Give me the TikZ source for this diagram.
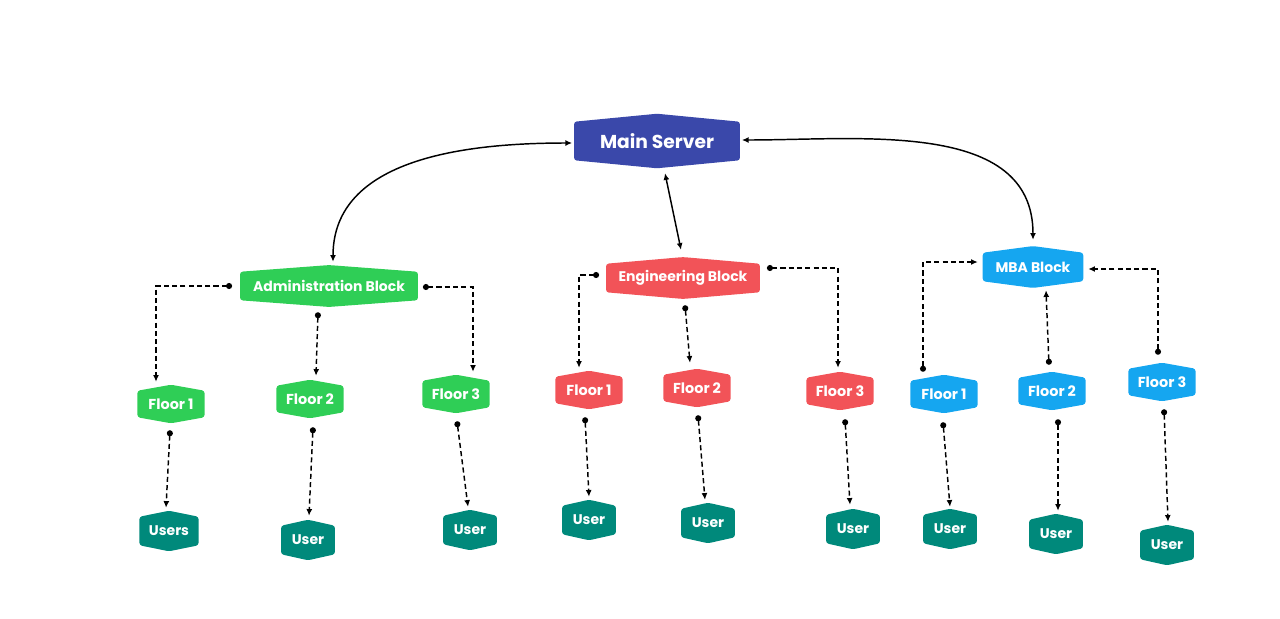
\documentclass[tikz,border=0pt]{standalone}
\usepackage{fontspec}
\setmainfont{Poppins}
\usetikzlibrary{arrows.meta,calc,backgrounds}

\definecolor{srvblue}{HTML}{3A48AA}
\definecolor{admgreen}{HTML}{2FCE56}
\definecolor{engred}{HTML}{F25358}
\definecolor{mbablue}{HTML}{15A6F0}
\definecolor{userteal}{HTML}{00897B}

\begin{document}
\begin{tikzpicture}[x=0.75pt,y=-0.75pt,
		hexbox/.style={inner sep=0pt, text=white, font=\bfseries\fontsize{10.5}{12}\selectfont},
		blockbox/.style={hexbox, minimum height=21pt},
		floorbox/.style={hexbox, minimum width=50pt, minimum height=19.5pt, font=\bfseries\fontsize{10.8}{12}\selectfont},
		userbox/.style={hexbox, minimum width=40pt, minimum height=21pt},
		duplex/.style={{Latex[length=5pt,width=4.5pt]}-{Latex[length=5pt,width=4.5pt]}, line width=1.1pt},
		feed/.style={{Circle[length=4.5pt]}-{Latex[length=5pt,width=4.5pt]}, line width=1.1pt, dash pattern=on 3.8pt off 2.4pt}]
		\useasboundingbox (0,0) rectangle (1280,618);
		
		% Main server
		\node[hexbox, minimum width=124pt, minimum height=28.5pt, font=\bfseries\fontsize{14}{16}\selectfont] (srv) at (657,141) {Main Server};
		
		% Blocks
		\node[blockbox, minimum width=133pt] (adm) at (329,286) {Administration Block};
		\node[blockbox, minimum width=115pt] (eng) at (683,278) {Engineering Block};
		\node[blockbox, minimum width=75pt] (mba) at (1033,267) {MBA Block};
		
		% Floors
		\node[floorbox] (af1) at (171,404) {Floor 1};
		\node[floorbox] (af2) at (310,399) {Floor 2};
		\node[floorbox] (af3) at (456,394) {Floor 3};
		\node[floorbox] (ef1) at (589,390) {Floor 1};
		\node[floorbox] (ef2) at (697,388) {Floor 2};
		\node[floorbox] (ef3) at (840,391) {Floor 3};
		\node[floorbox] (mf1) at (944,394) {Floor 1};
		\node[floorbox] (mf2) at (1052,391) {Floor 2};
		\node[floorbox] (mf3) at (1162,382) {Floor 3};
		
		% Users
		\node[userbox, minimum width=44pt] (au1) at (169,531) {Users};
		\node[userbox] (au2) at (308,540) {User};
		\node[userbox] (au3) at (470,530) {User};
		\node[userbox] (eu1) at (589,520) {User};
		\node[userbox] (eu2) at (708,523) {User};
		\node[userbox] (eu3) at (853,529) {User};
		\node[userbox] (mu1) at (950,529) {User};
		\node[userbox] (mu2) at (1056,534) {User};
		\node[userbox] (mu3) at (1167,545) {User};
		
		% hexagon shapes behind the labels
		\begin{scope}[on background layer]
			\foreach \n/\c/\p in {srv/srvblue/6pt, adm/admgreen/5pt, eng/engred/5pt, mba/mbablue/5pt,
				af1/admgreen/4.5pt, af2/admgreen/4.5pt, af3/admgreen/4.5pt,
				ef1/engred/4.5pt, ef2/engred/4.5pt, ef3/engred/4.5pt,
				mf1/mbablue/4.5pt, mf2/mbablue/4.5pt, mf3/mbablue/4.5pt,
				au1/userteal/4.5pt, au2/userteal/4.5pt, au3/userteal/4.5pt,
				eu1/userteal/4.5pt, eu2/userteal/4.5pt, eu3/userteal/4.5pt,
				mu1/userteal/4.5pt, mu2/userteal/4.5pt, mu3/userteal/4.5pt}
			\fill[\c, rounded corners=2pt] (\n.south west) -- (\n.north west) -- ([yshift=\p]\n.north)
				-- (\n.north east) -- (\n.south east) -- ([yshift=-\p]\n.south) -- cycle;
		\end{scope}
		
		% Server links
		\draw[duplex] ($(srv.west)+(-2,2)$) to[out=180,in=90] ($(adm.north)+(4,-10)$);
		\draw[duplex] ($(srv.south)+(8,13)$) -- ($(eng.north)+(-2,-14)$);
		\draw[duplex] ($(srv.east)+(2,-1)$) to[out=0,in=90] ($(mba.north)+(0,-13)$);
		
		% Administration block to floors
		\draw[feed] ($(adm.west)+(-8,0)$) -| ($(af1.north)+(-15,-9)$);
		\draw[feed] ($(adm.south)+(-11,12)$) -- ($(af2.north)+(6,-10)$);
		\draw[feed] ($(adm.east)+(5,1)$) -| ($(af3.north)+(17,-9)$);
		
		% Engineering block to floors
		\draw[feed] ($(eng.west)+(-7,-3)$) -| ($(ef1.north)+(-10,-9)$);
		\draw[feed] ($(eng.south)+(2,13)$) -- ($(ef2.north)+(-7,-12)$);
		\draw[feed] ($(eng.east)+(7,-10)$) -| ($(ef3.north)+(-2,-10)$);
		
		% MBA floors to block
		\draw[feed] ($(mf1.north)+(-21,-9)$) |- ($(mba.west)+(-5,-5)$);
		\draw[feed] ($(mf2.north)+(-3,-13)$) -- ($(mba.south)+(13,9)$);
		\draw[feed] ($(mf3.north)+(-4,-14)$) |- ($(mba.east)+(5,2)$);
		
		% Floors to users
		\draw[feed] ($(af1.south)+(-1,13)$) -- ($(au1.north)+(-3,-9)$);
		\draw[feed] ($(af2.south)+(3,15)$) -- ($(au2.north)+(1,-10)$);
		\draw[feed] ($(af3.south)+(1,14)$) -- ($(au3.north)+(-2,-9)$);
		\draw[feed] ($(ef1.south)+(-4,14)$) -- ($(eu1.north)+(0,-9)$);
		\draw[feed] ($(ef2.south)+(1,14)$) -- ($(eu2.north)+(-3,-9)$);
		\draw[feed] ($(ef3.south)+(5,15)$) -- ($(eu3.north)+(-3,-10)$);
		\draw[feed] ($(mf1.south)+(-1,15)$) -- ($(mu1.north)+(0,-8)$);
		\draw[feed] ($(mf2.south)+(6,15)$) -- ($(mu2.north)+(2,-9)$);
		\draw[feed] ($(mf3.south)+(2,14)$) -- ($(mu3.north)+(1,-9)$);
		
\end{tikzpicture}
\end{document}
